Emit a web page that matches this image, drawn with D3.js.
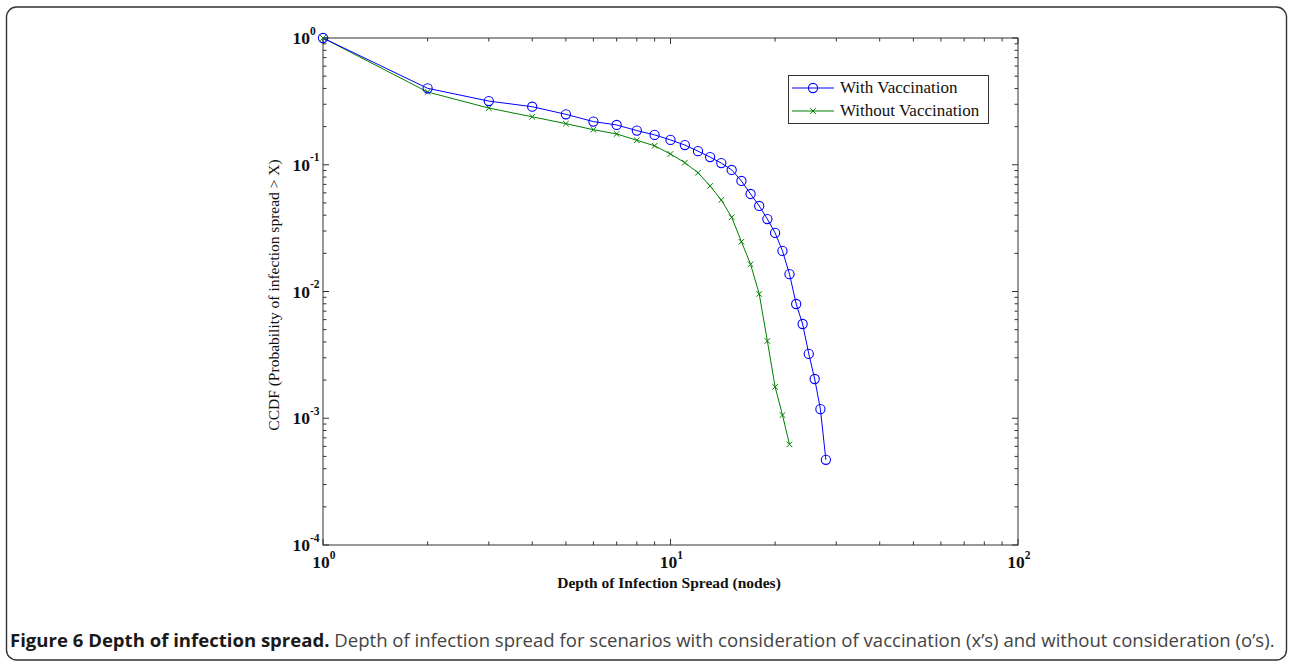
<!DOCTYPE html>
<html><head><meta charset="utf-8">
<script src="https://cdn.jsdelivr.net/npm/d3@7"></script>
<style>
html,body{margin:0;padding:0;background:#fff;}
svg{display:block;}
</style></head>
<body>
<svg id="chart" width="1289" height="666"></svg>
<script>
// Data
const depthWith = [1,2,3,4,5,6,7,8,9,10,11,12,13,14,15,16,17,18,19,20,21,22,23,24,25,26,27,28];
const ccdfWith = [1.0,0.401,0.318,0.287,0.250,0.219,0.206,0.186,0.172,0.157,0.143,0.128,0.115,0.103,0.091,0.0745,0.0588,0.0473,0.0373,0.029,0.0209,0.0137,0.00797,0.00554,0.00322,0.00204,0.00118,0.00047];
const depthWithout = [1,2,3,4,5,6,7,8,9,10,11,12,13,14,15,16,17,18,19,20,21,22];
const ccdfWithout = [1.0,0.375,0.280,0.239,0.211,0.189,0.175,0.156,0.141,0.1216,0.1038,0.0865,0.068,0.0527,0.0385,0.0247,0.0164,0.00956,0.00407,0.00177,0.00106,0.000623];
const seriesNames = ["With Vaccination","Without Vaccination"];
const xTickExps = [0,1,2];
const yTickExps = [0,-1,-2,-3,-4];
const xLabel = "Depth of Infection Spread (nodes)";
const yLabel = "CCDF (Probability of infection spread > X)";
const captionBold = "Figure 6 Depth of infection spread.";
const captionRest = " Depth of infection spread for scenarios with consideration of vaccination (x\u2019s) and without consideration (o\u2019s).";

const svg = d3.select("#chart");
const L = 323, R = 1018, T = 38, B = 545;
const x = d3.scaleLog().domain([1,100]).range([L,R]);
const y = d3.scaleLog().domain([1e-4,1]).range([B,T]);
const serif = "'Liberation Serif','Times New Roman',serif";
const axisCol = "#333";

// frame
svg.append("rect").attr("x",6.5).attr("y",7).attr("width",1280).attr("height",653)
  .attr("rx",10).attr("fill","none").attr("stroke","#333").attr("stroke-width",1.4);

// plot box
svg.append("rect").attr("x",L).attr("y",T).attr("width",R-L).attr("height",B-T)
  .attr("fill","#fff").attr("stroke",axisCol).attr("stroke-width",1);

// ticks
const g = svg.append("g").attr("stroke",axisCol).attr("stroke-width",1);
const xMinor = [], yMinor = [];
for (let e=0;e<2;e++) for (let m=2;m<10;m++) xMinor.push(m*Math.pow(10,e));
for (let e=-4;e<0;e++) for (let m=2;m<10;m++) yMinor.push(m*Math.pow(10,e));
const maj = 6, mnr = 3.5;
xTickExps.forEach(e=>{const px=x(Math.pow(10,e));
  g.append("line").attr("x1",px).attr("x2",px).attr("y1",B).attr("y2",B-maj);
  g.append("line").attr("x1",px).attr("x2",px).attr("y1",T).attr("y2",T+maj);});
xMinor.forEach(v=>{const px=x(v);
  g.append("line").attr("x1",px).attr("x2",px).attr("y1",B).attr("y2",B-mnr);
  g.append("line").attr("x1",px).attr("x2",px).attr("y1",T).attr("y2",T+mnr);});
yTickExps.forEach(e=>{const py=y(Math.pow(10,e));
  g.append("line").attr("x1",L).attr("x2",L+maj).attr("y1",py).attr("y2",py);
  g.append("line").attr("x1",R).attr("x2",R-maj).attr("y1",py).attr("y2",py);});
yMinor.forEach(v=>{const py=y(v);
  g.append("line").attr("x1",L).attr("x2",L+mnr).attr("y1",py).attr("y2",py);
  g.append("line").attr("x1",R).attr("x2",R-mnr).attr("y1",py).attr("y2",py);});

// tick labels
function powText(e){
  const t = svg.append("text").attr("font-family",serif).attr("fill","#111")
    .attr("font-size",17.5).attr("font-weight","bold");
  t.append("tspan").text("10");
  t.append("tspan").attr("font-size",11.5).attr("dy",-9.5).text(String(e));
  return t;
}
yTickExps.forEach(e=>{
  const t = powText(e).attr("y", y(Math.pow(10,e))+6);
  t.attr("x", 310 - t.node().getSubStringLength(0,2));
});
xTickExps.forEach(e=>{
  const t = powText(e).attr("y", 568);
  t.attr("x", x(Math.pow(10,e)) - 2 - t.node().getSubStringLength(0,2)/2);
});

// axis labels
svg.append("text").attr("x",669).attr("y",588).attr("text-anchor","middle")
  .attr("font-family",serif).attr("font-weight","bold").attr("font-size",15.5).attr("fill","#111").text(xLabel);
svg.append("text").attr("transform",`translate(279,295) rotate(-90)`).attr("text-anchor","middle")
  .attr("font-family",serif).attr("font-size",15.5).attr("fill","#111").text(yLabel);

// lines
const blue = "#0000ff", green = "#008000";
const line = d3.line().x(d=>x(d[0])).y(d=>y(d[1]));
const dWith = depthWith.map((d,i)=>[d,ccdfWith[i]]);
const dWithout = depthWithout.map((d,i)=>[d,ccdfWithout[i]]);
svg.append("path").datum(dWithout).attr("d",line).attr("fill","none").attr("stroke",green).attr("stroke-width",1);
svg.append("path").datum(dWith).attr("d",line).attr("fill","none").attr("stroke",blue).attr("stroke-width",1);
function cross(sel, cx, cy, s, col){
  sel.append("path").attr("d",`M${cx-s},${cy-s}L${cx+s},${cy+s}M${cx-s},${cy+s}L${cx+s},${cy-s}`)
    .attr("stroke",col).attr("stroke-width",1).attr("fill","none");
}
const gx = svg.append("g");
dWithout.forEach(d=>cross(gx, x(d[0]), y(d[1]), 2.8, green));
svg.append("g").selectAll("circle").data(dWith).join("circle")
  .attr("cx",d=>x(d[0])).attr("cy",d=>y(d[1])).attr("r",4.6)
  .attr("fill","none").attr("stroke",blue).attr("stroke-width",1.1);

// legend
const lg = svg.append("g");
lg.append("rect").attr("x",788.5).attr("y",75.5).attr("width",200).attr("height",48)
  .attr("fill","#fff").attr("stroke",axisCol).attr("stroke-width",1);
[[blue,88],[green,111]].forEach(([c,yy],i)=>{
  lg.append("line").attr("x1",792).attr("x2",834).attr("y1",yy).attr("y2",yy).attr("stroke",c).attr("stroke-width",1);
  if(i===0) lg.append("circle").attr("cx",813).attr("cy",yy).attr("r",4.6).attr("fill","none").attr("stroke",c).attr("stroke-width",1.1);
  else cross(lg,813,yy,2.8,c);
  lg.append("text").attr("x",840).attr("y",yy+5).attr("font-family",serif).attr("font-size",17)
    .attr("fill","#111").text(seriesNames[i]);
});

// caption (condensed look via horizontal scale)
const capG = svg.append("g");
const cap = capG.append("text").attr("x",0).attr("y",0).attr("font-family","'Open Sans','Noto Sans',sans-serif").attr("font-size",18.5);
cap.append("tspan").attr("font-weight","bold").attr("fill","#1a1a1a").text(captionBold);
cap.append("tspan").attr("fill","#444").text(captionRest);
const target = 1266;
const w = cap.node().getComputedTextLength();
capG.attr("transform",`translate(10,647) scale(${target/w},1)`);
</script>
</body></html>
